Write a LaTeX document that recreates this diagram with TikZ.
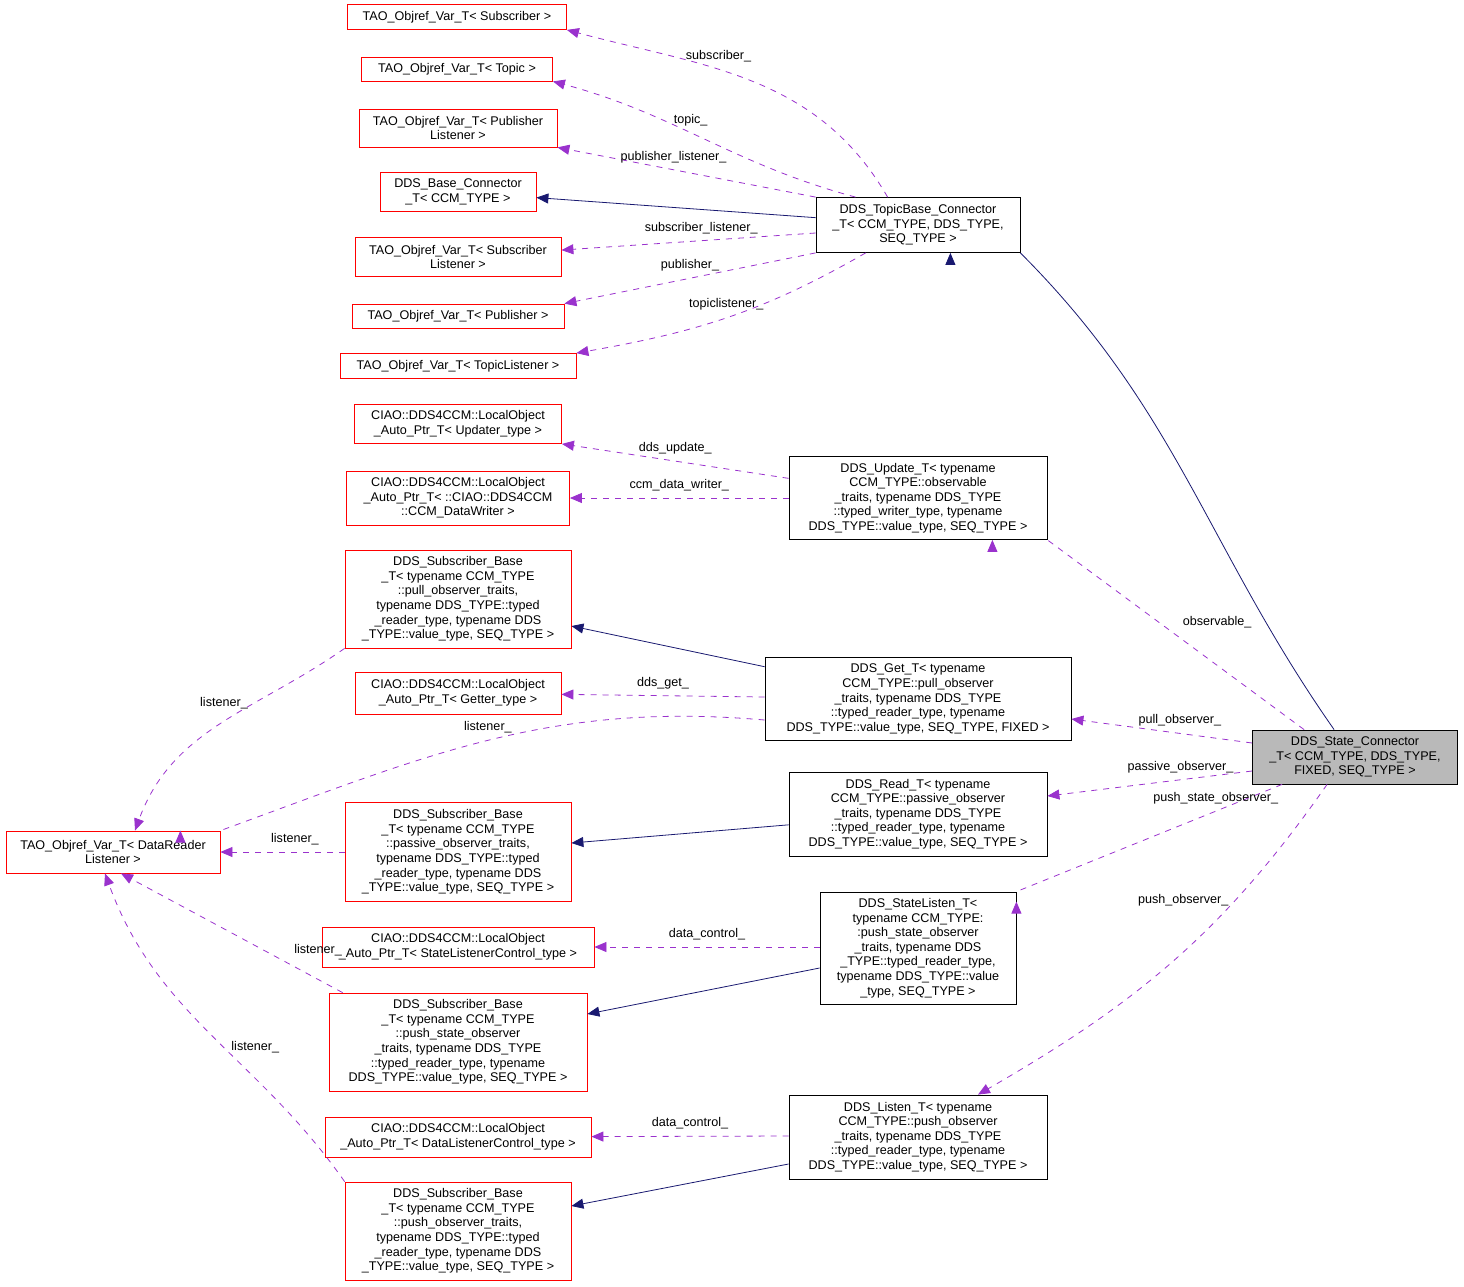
\documentclass[tikz,border=0pt]{standalone}
\usepackage{fontspec}
\setmainfont{Liberation Sans}
\usetikzlibrary{arrows.meta}
\definecolor{usecol}{HTML}{9A32CD}
\definecolor{inhcol}{HTML}{191970}
\tikzset{
  cls/.style={draw=red, align=center, inner sep=1pt, font=\fontsize{6.3}{7.3}\selectfont},
  main/.style={draw=black, align=center, inner sep=1pt, font=\fontsize{6.3}{7.3}\selectfont},
  uses/.style={-{Triangle[length=6pt,width=5pt]}, dashed, color=usecol},
  inh/.style={-{Triangle[length=6pt,width=5pt]}, color=inhcol},
  lbl/.style={font=\fontsize{6.3}{7.3}\selectfont, text=black}
}
\begin{document}
\begin{tikzpicture}[x=0.5pt,y=-0.5pt]
  \useasboundingbox (0,0) rectangle (1464,1287);
  % left column
  \node[cls, minimum width=109.5pt, minimum height=12.5pt] (sub) at (457,17) {TAO\_Objref\_Var\_T< Subscriber >};
  \node[cls, minimum width=95.5pt, minimum height=12pt] (top) at (457,69) {TAO\_Objref\_Var\_T< Topic >};
  \node[cls, minimum width=99pt, minimum height=19pt] (publ) at (458,128) {TAO\_Objref\_Var\_T< Publisher\\Listener >};
  \node[cls, minimum width=78pt, minimum height=19.5pt] (base) at (458,192) {DDS\_Base\_Connector\\\_T< CCM\_TYPE >};
  \node[cls, minimum width=103pt, minimum height=19.5pt] (subl) at (458,257) {TAO\_Objref\_Var\_T< Subscriber\\Listener >};
  \node[cls, minimum width=106pt, minimum height=12pt] (pub) at (458,316) {TAO\_Objref\_Var\_T< Publisher >};
  \node[cls, minimum width=118pt, minimum height=12.5pt] (topl) at (458,366) {TAO\_Objref\_Var\_T< TopicListener >};
  \node[cls, minimum width=103.5pt, minimum height=19.5pt] (upd) at (458,424) {CIAO::DDS4CCM::LocalObject\\\_Auto\_Ptr\_T< Updater\_type >};
  \node[cls, minimum width=111.5pt, minimum height=27pt] (dw) at (458,498) {CIAO::DDS4CCM::LocalObject\\\_Auto\_Ptr\_T< ::CIAO::DDS4CCM\\::CCM\_DataWriter >};
  \node[cls, minimum width=113pt, minimum height=49pt] (sbpull) at (458,599) {DDS\_Subscriber\_Base\\\_T< typename CCM\_TYPE\\::pull\_observer\_traits,\\typename DDS\_TYPE::typed\\\_reader\_type, typename DDS\\\_TYPE::value\_type, SEQ\_TYPE >};
  \node[cls, minimum width=103pt, minimum height=21pt] (get) at (458,693) {CIAO::DDS4CCM::LocalObject\\\_Auto\_Ptr\_T< Getter\_type >};
  \node[cls, minimum width=107pt, minimum height=21pt] (drl) at (113,852) {TAO\_Objref\_Var\_T< DataReader\\Listener >};
  \node[cls, minimum width=113pt, minimum height=49.5pt] (sbpas) at (458,852) {DDS\_Subscriber\_Base\\\_T< typename CCM\_TYPE\\::passive\_observer\_traits,\\typename DDS\_TYPE::typed\\\_reader\_type, typename DDS\\\_TYPE::value\_type, SEQ\_TYPE >};
  \node[cls, minimum width=136pt, minimum height=20pt] (slc) at (458,947) {CIAO::DDS4CCM::LocalObject\\\_Auto\_Ptr\_T< StateListenerControl\_type >};
  \node[cls, minimum width=129pt, minimum height=49pt] (sbps) at (458,1042) {DDS\_Subscriber\_Base\\\_T< typename CCM\_TYPE\\::push\_state\_observer\\\_traits, typename DDS\_TYPE\\::typed\_reader\_type, typename\\DDS\_TYPE::value\_type, SEQ\_TYPE >};
  \node[cls, minimum width=133pt, minimum height=20pt] (dlc) at (458,1137) {CIAO::DDS4CCM::LocalObject\\\_Auto\_Ptr\_T< DataListenerControl\_type >};
  \node[cls, minimum width=113pt, minimum height=49pt] (sbpush) at (458,1231) {DDS\_Subscriber\_Base\\\_T< typename CCM\_TYPE\\::push\_observer\_traits,\\typename DDS\_TYPE::typed\\\_reader\_type, typename DDS\\\_TYPE::value\_type, SEQ\_TYPE >};
  % middle column
  \node[main, minimum width=102pt, minimum height=27.5pt] (tb) at (918,225) {DDS\_TopicBase\_Connector\\\_T< CCM\_TYPE, DDS\_TYPE,\\SEQ\_TYPE >};
  \node[main, minimum width=129pt, minimum height=41.5pt] (update) at (918,498) {DDS\_Update\_T< typename\\CCM\_TYPE::observable\\\_traits, typename DDS\_TYPE\\::typed\_writer\_type, typename\\DDS\_TYPE::value\_type, SEQ\_TYPE >};
  \node[main, minimum width=153pt, minimum height=41.5pt] (gett) at (918,699) {DDS\_Get\_T< typename\\CCM\_TYPE::pull\_observer\\\_traits, typename DDS\_TYPE\\::typed\_reader\_type, typename\\DDS\_TYPE::value\_type, SEQ\_TYPE, FIXED >};
  \node[main, minimum width=129pt, minimum height=42pt] (read) at (918,814) {DDS\_Read\_T< typename\\CCM\_TYPE::passive\_observer\\\_traits, typename DDS\_TYPE\\::typed\_reader\_type, typename\\DDS\_TYPE::value\_type, SEQ\_TYPE >};
  \node[main, minimum width=98pt, minimum height=56pt] (sl) at (918,948) {DDS\_StateListen\_T<\\typename CCM\_TYPE:\\:push\_state\_observer\\\_traits, typename DDS\\\_TYPE::typed\_reader\_type,\\typename DDS\_TYPE::value\\\_type, SEQ\_TYPE >};
  \node[main, minimum width=129pt, minimum height=42pt] (listen) at (918,1137) {DDS\_Listen\_T< typename\\CCM\_TYPE::push\_observer\\\_traits, typename DDS\_TYPE\\::typed\_reader\_type, typename\\DDS\_TYPE::value\_type, SEQ\_TYPE >};
  % the class itself
  \node[main, fill=gray!55, minimum width=102.5pt, minimum height=27pt] (sc) at (1355,757) {DDS\_State\_Connector\\\_T< CCM\_TYPE, DDS\_TYPE,\\FIXED, SEQ\_TYPE >};
  % connectors of the topic base
  \draw[uses] (tb.north west) ++(72,0) to[out=120,in=-15] node[lbl, pos=0.6, above] {subscriber\_} (sub.south east);
  \draw[uses] (tb.north west) ++(40,0) to[out=165,in=-15] node[lbl, pos=0.55, above] {topic\_} (top.south east);
  \draw[uses] (tb.north west) -- node[lbl, pos=0.55, above] {publisher\_listener\_} (publ.south east);
  \draw[inh] (tb) -- (base);
  \draw[uses] (tb.west |- 0,233) -- node[lbl, pos=0.45, above] {subscriber\_listener\_} (subl);
  \draw[uses] (tb.south west) -- node[lbl, pos=0.5, above] {publisher\_} (pub.north east);
  \draw[uses] (tb.south west) ++(50,0) to[out=-150,in=10] node[lbl, pos=0.5, above] {topiclistener\_} (topl.north east);
  % the other parts
  \draw[uses] (update) -- node[lbl, pos=0.5, above] {dds\_update\_} (upd.south east);
  \draw[uses] (update) -- node[lbl, pos=0.5, above] {ccm\_data\_writer\_} (dw);
  \draw[inh] (gett) -- (sbpull.east |- 0,626);
  \draw[uses] (gett.west |- 0,697) -- node[lbl, pos=0.5, above] {dds\_get\_} (get);
  \draw[uses] (gett.west |- 0,720) to[out=175,in=20] node[lbl, pos=0.5, above] {listener\_} (drl.north east) ++(-40,0);
  \draw[inh] (read) -- (sbpas.east |- 0,843);
  \draw[uses] (sl.west |- 0,947) -- node[lbl, pos=0.5, above] {data\_control\_} (slc);
  \draw[inh] (sl.west |- 0,968) -- (sbps.east |- 0,1014);
  \draw[uses] (listen.west |- 0,1136) -- node[lbl, pos=0.5, above] {data\_control\_} (dlc);
  \draw[inh] (listen.west |- 0,1164) -- (sbpush.east |- 0,1206);
  % listeners of the subscriber bases
  \draw[uses] (sbpull.south west) ++(0,0) to[out=-145,in=70] node[lbl, pos=0.35, left] {listener\_} ([xshift=11pt]drl.north);
  \draw[uses] (sbpas.west) -- node[lbl, pos=0.4, above] {listener\_} (drl);
  \draw[uses] (sbps.north west) ++(14,0) -- node[lbl, pos=0.25, above right] {listener\_} ([xshift=4pt]drl.south);
  \draw[uses] (sbpush.north west) to[out=125,in=-70] node[lbl, pos=0.45, right] {listener\_} ([xshift=-4pt]drl.south);
  % connectors of the state connector
  \draw[inh] (sc.north west) ++(82,0) to[out=125,in=-45] (tb.south east) ++(-70,0);
  \draw[uses] (sc.north west) ++(52,0) -- node[lbl, pos=0.5, above right] {observable\_} (update.south east) ++(-55,0);
  \draw[uses] (sc.west |- 0,743) -- node[lbl, pos=0.4, above] {pull\_observer\_} (gett.east |- 0,719);
  \draw[uses] (sc.west |- 0,771) -- node[lbl, pos=0.35, above] {passive\_observer\_} (read.east |- 0,796);
  \draw[uses] (sc.south west) ++(30,0) -- node[lbl, pos=0.25, above] {push\_state\_observer\_} (sl.north east) ++(0,10);
  \draw[uses] (sc.south west) ++(75,0) to[out=-125,in=30] node[lbl, pos=0.3, left] {push\_observer\_} ([xshift=30pt]listen.north);
\end{tikzpicture}
\end{document}
